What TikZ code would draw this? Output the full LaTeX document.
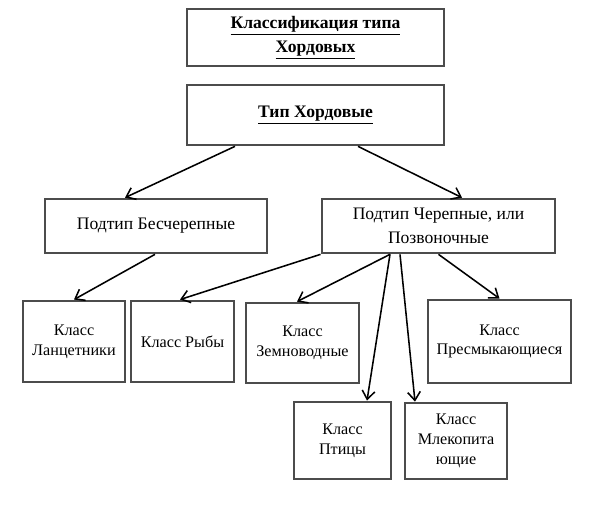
\documentclass[tikz,border=0pt]{standalone}
\usepackage{fontspec}
\setmainfont{Liberation Serif}
\usetikzlibrary{positioning, calc, arrows.meta}
\tikzset{
box/.style={draw=black!70, line width=1.9pt, fill=white, align=center, inner sep=0pt, font=\fontsize{12.5}{17.5}\selectfont}, % the upper boxes
cls/.style={box, font=\fontsize{11.5}{14}\selectfont}, % the boxes of the classes
link/.style={-{Straight Barb[length=6pt,width=9pt]}, line width=1.1pt}, % arrows between the boxes
}

\begin{document}
\begin{tikzpicture}[x=0.025cm, y=-0.025cm]
        \useasboundingbox (0,0) rectangle (600,514);
        %% upper part
        \node[box, minimum width=6.43cm, minimum height=1.43cm, font=\bfseries\fontsize{12.5}{17}\selectfont] (title) at (315.5,37.5) {\underline{Классификация типа}\\\underline{Хордовых}};
        \node[box, minimum width=6.43cm, minimum height=1.5cm, font=\bfseries\fontsize{12.5}{17}\selectfont] (tip) at (315.5,115) {\underline{Тип Хордовые}};
        \node[box, minimum width=5.55cm, minimum height=1.35cm] (bes) at (156,226) {Подтип Бесчерепные};
        \node[box, minimum width=5.83cm, minimum height=1.35cm] (cher) at (438.5,226) {Подтип Черепные, или\\Позвоночные};
        %% classes
        \node[cls, minimum width=2.55cm, minimum height=2.03cm] (lanc) at (74,341.5) {Класс\\Ланцетники};
        \node[cls, minimum width=2.58cm, minimum height=2.03cm] (ryby) at (182.5,341.5) {Класс Рыбы};
        \node[cls, minimum width=2.83cm, minimum height=2cm] (zemn) at (302.5,343) {Класс\\Земноводные};
        \node[cls, minimum width=3.58cm, minimum height=2.08cm] (presm) at (499.5,341.5) {Класс\\Пресмыкающиеся};
        \node[cls, minimum width=2.43cm, minimum height=1.93cm] (ptic) at (342.5,440.5) {Класс\\Птицы};
        \node[cls, minimum width=2.55cm, minimum height=1.9cm] (mlek) at (456,441) {Класс\\Млекопита\\ющие};
        %% arrows
        \draw[link] ($(tip.south)+(-80.5,0)$) -- ($(bes.north)+(-31,0)$);
        \draw[link] ($(tip.south)+(42.5,0)$) -- ($(cher.north)+(23.5,0)$);
        \draw[link] ($(bes.south)+(-1,0)$) -- (lanc.north);
        \draw[link] (cher.south west) -- ($(ryby.north)+(-2.5,0)$);
        \draw[link] ($(cher.south)+(-48.5,0)$) -- ($(zemn.north)+(-5.5,0)$);
        \draw[link] ($(cher.south)+(-48.5,0)$) -- ($(ptic.north)+(24.5,0)$);
        \draw[link] ($(cher.south)+(-38.5,0)$) -- ($(mlek.north)+(-41,0)$);
        \draw[link] (cher.south) -- (presm.north);
    \end{tikzpicture}
\end{document}
